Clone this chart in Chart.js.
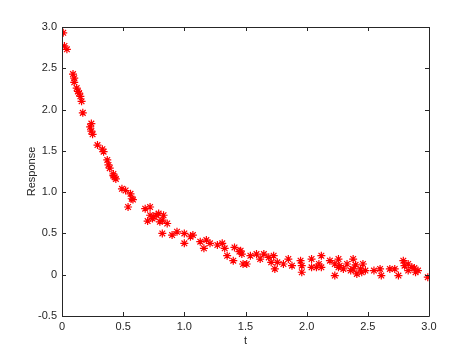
<!DOCTYPE html>
<html>
<head>
<meta charset="utf-8">
<script src="https://cdn.jsdelivr.net/npm/chart.js@4"></script>
<style>
  html, body { margin: 0; padding: 0; background: #fff; }
  #wrap { width: 474px; height: 355px; }
</style>
</head>
<body>
<div id="wrap"><canvas id="respChart" width="474" height="355"></canvas></div>
<script>
// data
const tValues = [0.01, 0.02, 0.04, 0.09, 0.10, 0.10, 0.12, 0.13, 0.14, 0.15, 0.16,
  0.17, 0.23, 0.24, 0.24, 0.25, 0.29, 0.33, 0.34, 0.37, 0.38,
  0.39, 0.42, 0.42, 0.43, 0.44, 0.49, 0.52, 0.54, 0.56, 0.57, 0.58,
  0.68, 0.70, 0.72, 0.72, 0.74, 0.75, 0.77, 0.79, 0.80, 0.82, 0.82, 0.83, 0.86,
  0.90, 0.94, 1.00, 1.00, 1.05, 1.07, 1.13, 1.16, 1.18, 1.21,
  1.27, 1.31, 1.33, 1.35, 1.40, 1.41, 1.45, 1.46, 1.47, 1.48, 1.51,
  1.54, 1.59, 1.62, 1.65, 1.69, 1.71, 1.73, 1.74, 1.76, 1.81,
  1.85, 1.88, 1.95, 1.96, 1.96, 2.04, 2.04, 2.08, 2.10, 2.12,
  2.12, 2.19, 2.23, 2.23, 2.26, 2.26, 2.27, 2.30, 2.33, 2.36, 2.38,
  2.38, 2.40, 2.41, 2.44, 2.45, 2.46, 2.48, 2.55, 2.60, 2.61, 2.68,
  2.72, 2.75, 2.79, 2.80, 2.83, 2.83, 2.86, 2.88, 2.89, 2.91, 2.99];
const responseValues = [2.93, 2.77, 2.73, 2.43, 2.38, 2.33, 2.26, 2.22, 2.20, 2.16, 2.10,
  1.96, 1.79, 1.83, 1.74, 1.70, 1.57, 1.52, 1.49, 1.39, 1.33,
  1.29, 1.20, 1.22, 1.18, 1.16, 1.04, 1.02, 0.82, 0.98, 0.92, 0.91,
  0.80, 0.65, 0.82, 0.72, 0.68, 0.70, 0.72, 0.74, 0.64, 0.50, 0.66, 0.72, 0.62,
  0.48, 0.52, 0.50, 0.38, 0.46, 0.48, 0.40, 0.32, 0.42, 0.38,
  0.36, 0.38, 0.32, 0.23, 0.17, 0.33, 0.28, 0.29, 0.25, 0.13, 0.13,
  0.23, 0.25, 0.19, 0.25, 0.21, 0.15, 0.23, 0.07, 0.15, 0.13,
  0.19, 0.11, 0.17, 0.11, 0.03, 0.19, 0.09, 0.09, 0.13, 0.23,
  0.09, 0.17, -0.01, 0.13, 0.19, 0.09, 0.11, 0.07, 0.13, 0.05, 0.19,
  0.07, 0.12, 0.01, 0.07, 0.03, 0.13, 0.05, 0.05, 0.07, -0.01, 0.07,
  0.07, -0.01, 0.17, 0.11, 0.05, 0.13, 0.09, 0.08, 0.03, 0.05, -0.03];
const xTicks = [0, 0.5, 1, 1.5, 2, 2.5, 3];
const yTicks = [-0.5, 0, 0.5, 1, 1.5, 2, 2.5, 3];

const axisColor = '#262626';
const labelFont = { family: 'Liberation Sans, Arial, sans-serif', size: 11 };

// MATLAB style box with inward ticks on all four sides
const boxPlugin = {
  id: 'boxAxes',
  afterDraw(chart) {
    const ctx = chart.ctx;
    const a = chart.chartArea;
    const xs = chart.scales.x, ys = chart.scales.y;
    const len = 4;
    ctx.save();
    ctx.strokeStyle = axisColor;
    ctx.lineWidth = 1;
    ctx.beginPath();
    ctx.rect(Math.round(a.left) + 0.5, Math.round(a.top) + 0.5,
      Math.round(a.right - a.left), Math.round(a.bottom - a.top));
    xTicks.forEach(v => {
      const px = Math.round(xs.getPixelForValue(v)) + 0.5;
      ctx.moveTo(px, a.bottom); ctx.lineTo(px, a.bottom - len);
      ctx.moveTo(px, a.top); ctx.lineTo(px, a.top + len);
    });
    yTicks.forEach(v => {
      const py = Math.round(ys.getPixelForValue(v)) + 0.5;
      ctx.moveTo(a.left, py); ctx.lineTo(a.left + len, py);
      ctx.moveTo(a.right, py); ctx.lineTo(a.right - len, py);
    });
    ctx.stroke();
    ctx.restore();
  }
};

new Chart(document.getElementById('respChart'), {
  type: 'scatter',
  data: {
    datasets: [{
      data: tValues.map((t, i) => ({ x: t, y: responseValues[i] })),
      pointStyle: 'star',
      radius: 4,
      borderColor: '#ff0000',
      backgroundColor: '#ff0000',
      borderWidth: 1.2
    }]
  },
  options: {
    responsive: false,
    animation: false,
    layout: { padding: { left: 25, top: 27, right: 45, bottom: 0 } },
    plugins: { legend: { display: false }, tooltip: { enabled: false } },
    scales: {
      x: {
        type: 'linear', min: 0, max: 3,
        afterBuildTicks: s => { s.ticks = xTicks.map(v => ({ value: v })); },
        afterFit: s => { s.height = 39; },
        grid: { display: false, drawTicks: false },
        border: { display: false },
        ticks: { color: axisColor, font: labelFont, padding: 4, maxRotation: 0 },
        title: { display: true, text: 't', color: axisColor, font: labelFont, padding: { top: 2, bottom: 7 } }
      },
      y: {
        type: 'linear', min: -0.5, max: 3,
        afterBuildTicks: s => { s.ticks = yTicks.map(v => ({ value: v })); },
        afterFit: s => { s.width = 37; },
        grid: { display: false, drawTicks: false },
        border: { display: false },
        ticks: { color: axisColor, font: labelFont, padding: 5 },
        title: { display: true, text: 'Response', color: axisColor, font: labelFont, padding: { top: 0, bottom: 0 } }
      }
    }
  },
  plugins: [boxPlugin]
});
</script>
</body>
</html>
